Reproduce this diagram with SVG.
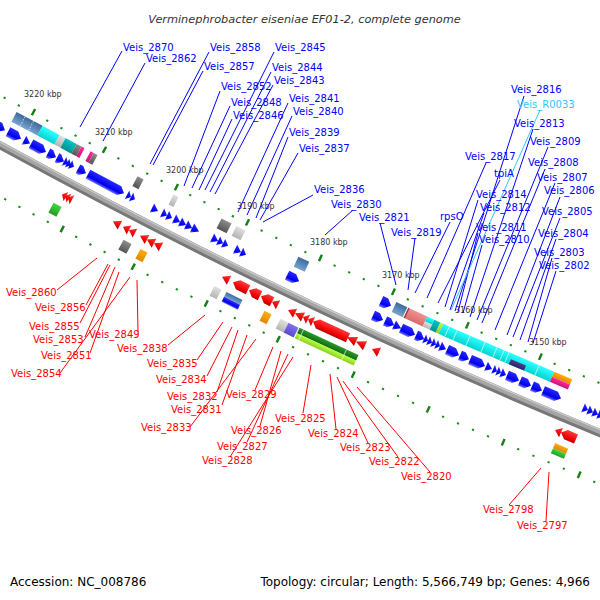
<svg xmlns="http://www.w3.org/2000/svg" width="600" height="600" viewBox="0 0 600 600">
<defs>
<linearGradient id="gBlue" x1="0" y1="0" x2="0" y2="1"><stop offset="0" stop-color="#2a2aff"/><stop offset="0.7" stop-color="#0000ee"/><stop offset="1" stop-color="#7a7aff"/></linearGradient>
<linearGradient id="gRed" x1="0" y1="0" x2="0" y2="1"><stop offset="0" stop-color="#ff3a3a"/><stop offset="0.7" stop-color="#f00000"/><stop offset="1" stop-color="#b80000"/></linearGradient>
<linearGradient id="gSteel" x1="0" y1="0" x2="0" y2="1"><stop offset="0" stop-color="#3c6c9c"/><stop offset="1" stop-color="#78a4d2"/></linearGradient>
<linearGradient id="gCyan" x1="0" y1="0" x2="0" y2="1"><stop offset="0" stop-color="#30ffff"/><stop offset="1" stop-color="#00d2d2"/></linearGradient>
<linearGradient id="gTeal" x1="0" y1="0" x2="0" y2="1"><stop offset="0" stop-color="#00c4c4"/><stop offset="1" stop-color="#009090"/></linearGradient>
<linearGradient id="gLGrey" x1="0" y1="0" x2="0" y2="1"><stop offset="0" stop-color="#e0e0e0"/><stop offset="1" stop-color="#b4b4b4"/></linearGradient>
<linearGradient id="gDGrey" x1="0" y1="0" x2="0" y2="1"><stop offset="0" stop-color="#8c8c8c"/><stop offset="1" stop-color="#555"/></linearGradient>
<linearGradient id="gPink" x1="0" y1="0" x2="0" y2="1"><stop offset="0" stop-color="#ff2a9a"/><stop offset="1" stop-color="#d0107a"/></linearGradient>
<linearGradient id="gSalmon" x1="0" y1="0" x2="0" y2="1"><stop offset="0" stop-color="#f49090"/><stop offset="1" stop-color="#d86a6a"/></linearGradient>
<linearGradient id="gYG" x1="0" y1="0" x2="0" y2="1"><stop offset="0" stop-color="#b8ff40"/><stop offset="1" stop-color="#8cd020"/></linearGradient>
<linearGradient id="gOrange" x1="0" y1="0" x2="0" y2="1"><stop offset="0" stop-color="#ffac10"/><stop offset="1" stop-color="#e08800"/></linearGradient>
<linearGradient id="gSlate" x1="0" y1="0" x2="0" y2="1"><stop offset="0" stop-color="#4a3f90"/><stop offset="1" stop-color="#2c2468"/></linearGradient>
<linearGradient id="gPurple" x1="0" y1="0" x2="0" y2="1"><stop offset="0" stop-color="#8070f0"/><stop offset="1" stop-color="#5a4acc"/></linearGradient>
<linearGradient id="gGreen" x1="0" y1="0" x2="0" y2="1"><stop offset="0" stop-color="#40d840"/><stop offset="1" stop-color="#20a020"/></linearGradient>
<linearGradient id="gDGreen" x1="0" y1="0" x2="0" y2="1"><stop offset="0" stop-color="#2a9a2a"/><stop offset="1" stop-color="#106a10"/></linearGradient>
</defs>
<style>
.lb{font-family:"DejaVu Sans",sans-serif;font-size:10px;fill:#0000ff}
.lr{font-family:"DejaVu Sans",sans-serif;font-size:10px;fill:#ff0000}
.lc{font-family:"DejaVu Sans",sans-serif;font-size:10px;fill:#33c4ff}
.kb{font-family:"DejaVu Sans",sans-serif;font-size:8px;fill:#333}
.ft{font-family:"DejaVu Sans",sans-serif;font-size:12px;fill:#000}
.bl{stroke:#0000ff;stroke-width:1;fill:none}
.rl{stroke:#ff0000;stroke-width:1;fill:none}
.cl{stroke:#33c4ff;stroke-width:1;fill:none}
.dot{fill:#1a8c1a}
.tick{fill:#178017}
.fb{fill:url(#gBlue)}
.fr{fill:url(#gRed)}
.div{stroke:#ffffff;stroke-opacity:0.7;stroke-width:0.8}
</style>
<rect width="600" height="600" fill="#ffffff"/>
<text x="304.5" y="23" text-anchor="middle" font-family="DejaVu Sans, sans-serif" font-style="italic" font-size="11.3" fill="#333">Verminephrobacter eiseniae EF01-2, complete genome</text>

<g id="scale-upper">
<g transform="translate(0,95.5) rotate(27.96) scale(1.132,1)">
<path class="dot" d="M3.6,-1h2v2h-2z M17.8,-1h2v2h-2z M46.2,-1h2v2h-2z M60.4,-1h2v2h-2z M74.6,-1h2v2h-2z M88.8,-1h2v2h-2z M117.4,-1h2v2h-2z M131.8,-1h2v2h-2z M146.2,-1h2v2h-2z"/>
<path class="tick" d="M31.9,-4.5h2.2v7h-2.2z M102.9,-4.5h2.2v7h-2.2z"/>
</g>
<g transform="translate(150,175.1) rotate(26.41) scale(1.117,1)">
<path class="dot" d="M10.6,-1h2v2h-2z M39.2,-1h2v2h-2z M53.4,-1h2v2h-2z M67.6,-1h2v2h-2z M81.8,-1h2v2h-2z M110.6,-1h2v2h-2z M125.2,-1h2v2h-2z M139.8,-1h2v2h-2z"/>
<path class="tick" d="M24.9,-4.5h2.2v7h-2.2z M95.9,-4.5h2.2v7h-2.2z"/>
</g>
<g transform="translate(300,249.6) rotate(24.82) scale(1.102,1)">
<path class="dot" d="M4.4,-1h2v2h-2z M33.6,-1h2v2h-2z M48.2,-1h2v2h-2z M62.8,-1h2v2h-2z M77.4,-1h2v2h-2z M106.8,-1h2v2h-2z M121.6,-1h2v2h-2z M136.4,-1h2v2h-2z"/>
<path class="tick" d="M18.9,-4.5h2.2v7h-2.2z M91.9,-4.5h2.2v7h-2.2z"/>
</g>
<g transform="translate(450,319) rotate(23.19) scale(1.088,1)">
<path class="dot" d="M1.2,-1h2v2h-2z M30.6,-1h2v2h-2z M45.2,-1h2v2h-2z M59.8,-1h2v2h-2z M74.4,-1h2v2h-2z M103.6,-1h2v2h-2z M118.2,-1h2v2h-2z M132.8,-1h2v2h-2z M147.4,-1h2v2h-2z"/>
<path class="tick" d="M15.9,-4.5h2.2v7h-2.2z M88.9,-4.5h2.2v7h-2.2z"/>
</g>
<text class="kb" x="24" y="97">3220 kbp</text>
<text class="kb" x="95" y="135">3210 kbp</text>
<text class="kb" x="166" y="173">3200 kbp</text>
<text class="kb" x="237" y="209">3190 kbp</text>
<text class="kb" x="310" y="245">3180 kbp</text>
<text class="kb" x="382" y="278">3170 kbp</text>
<text class="kb" x="455" y="313">3160 kbp</text>
<text class="kb" x="529" y="345">3150 kbp</text>
</g>

<g id="scale-lower">
<g transform="translate(0,196.5) rotate(27.96) scale(1.132,1)">
<path class="dot" d="M4.2,-1h2v2h-2z M18.4,-1h2v2h-2z M32.6,-1h2v2h-2z M46.8,-1h2v2h-2z M75.2,-1h2v2h-2z M89.4,-1h2v2h-2z M103.6,-1h2v2h-2z M117.8,-1h2v2h-2z M146.6,-1h2v2h-2z"/>
<path class="tick" d="M60.9,-4h2.2v7h-2.2z M131.9,-4h2.2v7h-2.2z"/>
</g>
<g transform="translate(150,276.1) rotate(26.41) scale(1.117,1)">
<path class="dot" d="M11.2,-1h2v2h-2z M25.8,-1h2v2h-2z M40.4,-1h2v2h-2z M69.4,-1h2v2h-2z M83.8,-1h2v2h-2z M98.2,-1h2v2h-2z M112.6,-1h2v2h-2z M142,-1h2v2h-2z"/>
<path class="tick" d="M54.9,-4h2.2v7h-2.2z M126.9,-4h2.2v7h-2.2z"/>
</g>
<g transform="translate(300,350.6) rotate(24.82) scale(1.102,1)">
<path class="dot" d="M7,-1h2v2h-2z M22,-1h2v2h-2z M37,-1h2v2h-2z M67,-1h2v2h-2z M82,-1h2v2h-2z M97,-1h2v2h-2z M112,-1h2v2h-2z M142,-1h2v2h-2z"/>
<path class="tick" d="M51.9,-4h2.2v7h-2.2z M126.9,-4h2.2v7h-2.2z"/>
</g>
<g transform="translate(450,420) rotate(23.19) scale(1.088,1)">
<path class="dot" d="M7,-1h2v2h-2z M22,-1h2v2h-2z M37,-1h2v2h-2z M67.2,-1h2v2h-2z M82.4,-1h2v2h-2z M97.6,-1h2v2h-2z M112.8,-1h2v2h-2z M143.2,-1h2v2h-2z"/>
<path class="tick" d="M51.9,-4h2.2v7h-2.2z M127.9,-4h2.2v7h-2.2z"/>
</g>
</g>

<g id="axis">
<path d="M-10,139 Q300,309.6 610,436.4" transform="translate(0,0.8)" stroke="#777" stroke-width="8" fill="none"/>
<path d="M-10,139 Q300,309.6 610,436.4" transform="translate(0,-0.8)" stroke="#a6a6a6" stroke-width="5" fill="none"/>
<path d="M-10,139 Q300,309.6 610,436.4" transform="translate(0,-2.6)" stroke="#cfcfcf" stroke-width="1.2" fill="none"/>
</g>

<g id="track-upper-features">
<g transform="translate(0,109.5) rotate(27.96) scale(1.132,1)">
<rect x="14" y="-5.5" width="26" height="11" fill="url(#gSteel)"/>
<path class="div" d="M22.5,-5.5V5.5 M31,-5.5V5.5" stroke-dasharray="1.5 1.5"/>
<rect x="40" y="-5.5" width="17" height="11" fill="url(#gCyan)"/>
<rect x="57" y="-5.5" width="6" height="11" fill="url(#gLGrey)"/>
<rect x="63" y="-5.5" width="11" height="11" fill="url(#gTeal)"/>
<rect x="74" y="-5.5" width="5" height="11" fill="url(#gDGrey)"/>
<rect x="79" y="-5.5" width="3" height="11" fill="url(#gPink)"/>
<rect x="88" y="-5.5" width="3" height="11" fill="url(#gPink)"/>
<rect x="91" y="-5.5" width="4" height="11" fill="url(#gDGrey)"/>
<rect x="135" y="-5.5" width="6" height="11" fill="url(#gDGrey)"/>
</g>
<g transform="translate(150,189.1) rotate(26.41) scale(1.117,1)">
<rect x="21" y="-5.5" width="5" height="11" fill="url(#gLGrey)"/>
<rect x="69" y="-5.5" width="10" height="11" fill="url(#gDGrey)"/>
<rect x="84" y="-5.5" width="9" height="11" fill="url(#gLGrey)"/>
</g>
<g transform="translate(300,263.6) rotate(24.82) scale(1.102,1)">
<rect x="-4" y="-5.5" width="11" height="11" fill="url(#gSteel)"/>
<path class="fb" d="M81,-5.5H86L91,0L86,5.5H81Z"/>
<rect x="94" y="-5.5" width="11" height="11" fill="url(#gSteel)"/>
<rect x="106" y="-5.5" width="19" height="11" fill="url(#gSalmon)"/>
<rect x="106" y="-5.5" width="1.2" height="11" fill="#a03030"/>
<rect x="125" y="-5.5" width="7" height="5.5" fill="url(#gCyan)"/>
<rect x="125" y="0" width="7" height="5.5" fill="url(#gLGrey)"/>
<rect x="132" y="-5.5" width="6" height="11" fill="url(#gTeal)"/>
<rect x="138" y="-5.5" width="3" height="11" fill="url(#gYG)"/>
<rect x="141" y="-5.5" width="9.5" height="11" fill="url(#gCyan)"/>
<path class="div" d="M147,-5.5V5.5"/>
</g>
<g transform="translate(450,333) rotate(23.19) scale(1.088,1)">
<rect x="0" y="-5.5" width="102" height="11" fill="url(#gCyan)"/>
<path class="div" d="M5,-5.5V5.5 M18,-5.5V5.5 M33,-5.5V5.5 M45,-5.5V5.5 M52,-5.5V5.5 M57,-5.5V5.5 M87,-5.5V5.5"/>
<rect x="61" y="0" width="15" height="5.5" fill="url(#gSlate)"/>
<rect x="102" y="-5.5" width="18" height="5.5" fill="url(#gOrange)"/>
<rect x="102" y="0" width="18" height="5.5" fill="url(#gPink)"/>
</g>
</g>

<g id="track-forward-genes">
<path class="fb" transform="translate(0,127.5) rotate(27.96) scale(1.132,1)" d="M-3,-5H0L5,0L0,5H-3Z M8,-5H16L21,0L16,5H8Z M24,-5L30,0L24,5Z M31,-5H41L46,0L41,5H31Z M48,-5H51L56,0L51,5H48Z M57,-5H59L64,0L59,5H57Z M64,-5L68,0L64,5Z M67,-5L71,0L67,5Z M70,-5L74,0L70,5Z M78,-5H81L86,0L81,5H78Z M88,-5H119L124,0L119,5H88Z M127,-5L131,0L127,5Z M131,-5L135,0L131,5Z"/>
<path class="fb" transform="translate(150,207.1) rotate(26.41) scale(1.117,1)" d="M2,-5L8,0L2,5Z M12,-5L17,0L12,5Z M17,-5L22,0L17,5Z M24,-5L30,0L24,5Z M30,-5L36,0L30,5Z M36,-5L42,0L36,5Z M42,-5L49,0L42,5Z M62,-5L68,0L62,5Z M68,-5L73,0L68,5Z M73,-5L78,0L73,5Z M85,-5L91,0L85,5Z M91,-5L96,0L91,5Z M137,-5H144L149,0L144,5H137Z"/>
<path class="fb" transform="translate(300,281.6) rotate(24.82) scale(1.102,1)" d="M73,-5H78L83,0L78,5H73Z M85,-5H89L94,0L89,5H85Z M94,-5L101,0L94,5Z M101,-5H110L115,0L110,5H101Z M116,-5H119L124,0L119,5H116Z M124,-5L128,0L124,5Z M128,-5L132,0L128,5Z M132,-5L136,0L132,5Z M136,-5L140,0L136,5Z M140,-5L146,0L140,5Z M147,-5H154L159,0L154,5H147Z"/>
<path class="fb" transform="translate(450,351) rotate(23.19) scale(1.088,1)" d="M10,-5H14L19,0L14,5H10Z M20,-5H30L35,0L30,5H20Z M36,-5L42,0L36,5Z M43,-5L47,0L43,5Z M47,-5L51,0L47,5Z M51,-5L56,0L51,5Z M57,-5H64L69,0L64,5H57Z M70,-5H76L81,0L76,5H70Z M82,-5H87L92,0L87,5H82Z M93,-5H106L111,0L106,5H93Z M133,-5L138,0L133,5Z M138,-5L143,0L138,5Z M143,-5L148,0L143,5Z M148,-5L153,0L148,5Z"/>
</g>

<g id="track-reverse-genes">
<path class="fr" transform="translate(0,161.5) rotate(27.96) scale(1.132,1)" d="M62,0L66,-5V5Z M65,0L69,-5V5Z M68,0L72,-5V5Z M113,0L120,-5V5Z M123,0L129,-5V5Z M129,0L135,-5V5Z M140,0L147,-5V5Z M147,0L154,-5V5Z M154,0L161,-5V5Z"/>
<path class="fr" transform="translate(150,241.1) rotate(26.41) scale(1.117,1)" d="M72,0L79,-5V5Z M83,0L88,-5H98V5H88Z M99,0L104,-5H110V5H104Z M111,0L116,-5H122V5H116Z M122,0L128,-5V5Z"/>
<path class="fr" transform="translate(300,315.6) rotate(24.82) scale(1.102,1)" d="M-12,0L-5,-5V5Z M-5,0L3,-5V5Z M3,0L8,-5V5Z M8,0L13,-5V5Z M13,0L18,-5H48V5H18Z M47,0L56,-5V5Z M56,0L65,-5V5Z M72,0L79,-5V5Z"/>
<path class="fr" transform="translate(450,385) rotate(23.19) scale(1.088,1)" d="M105,0L111,-5V5Z M111,0L116,-5H126V5H116Z"/>
</g>

<g id="track-lower-features">
<g transform="translate(0,180.5) rotate(27.96) scale(1.132,1)">
<rect x="51" y="-5.5" width="8" height="11" fill="url(#gGreen)"/>
<rect x="121" y="-5.5" width="8" height="11" fill="url(#gDGrey)"/>
<rect x="138" y="-5.5" width="7" height="11" fill="url(#gOrange)"/>
</g>
<g transform="translate(150,260.1) rotate(26.41) scale(1.117,1)">
<rect x="62" y="-5.5" width="7" height="11" fill="url(#gLGrey)"/>
<rect x="74" y="-5.5" width="16" height="5.5" fill="url(#gSteel)"/>
<rect x="74" y="0" width="16" height="5.5" fill="url(#gBlue)"/>
<rect x="112" y="-5.5" width="7" height="11" fill="url(#gOrange)"/>
<rect x="128" y="-5.5" width="8" height="11" fill="url(#gLGrey)"/>
<rect x="136" y="-5.5" width="10" height="11" fill="url(#gPurple)"/>
</g>
<g transform="translate(300,334.6) rotate(24.82) scale(1.102,1)">
<rect x="-3" y="-6" width="59" height="6" fill="url(#gDGreen)"/>
<rect x="-3" y="0" width="59" height="5.5" fill="url(#gYG)"/>
<path class="div" d="M1,-6V5.5 M44,-6V5.5" stroke-opacity="0.4"/>
</g>
<g transform="translate(450,404) rotate(23.19) scale(1.088,1)">
<rect x="103" y="-5.5" width="13" height="5.5" fill="url(#gOrange)"/>
<rect x="103" y="0" width="13" height="5.5" fill="url(#gGreen)"/>
</g>
</g>

<g id="connectors">
<path class="bl" d="M122,51L80,127 M145,63L103,141 M209,52L150,164 M203,71L153,165 M220,91L184,186 M230,106L192,188 M232,119L199,190 M274,52L205,190 M271,72L210,192 M273,85L215,194 M288,103L238,212 M292,116L247,215 M288,137L256,218 M298,153L285,176L260,220 M313,195L263,222 M353,210L325,235 M380,223L396,285 M415,238L408,290 M450,222L415,293 M486,163L427,298 M500,180L438,303 M478,200L445,307 M484,213L450,310 M478,233L458,312 M482,245L463,313 M524,96L455,311 M533,129L470,317 M548,147L477,320 M545,169L482,323 M555,183L495,330 M560,197L507,335 M560,218L513,337 M556,239L520,340 M552,258L528,342 M556,271L533,343"/>
<path class="cl" d="M540,110L451,310"/>
<path class="rl" d="M57,290L97,258 M86,305L108,264 M80,323L110,265 M85,337L115,267 M90,353L119,272 M60,373L130,277 M138,332L137,280 M168,345L205,315 M197,360L223,322 M207,376L232,327 M217,392L238,330 M222,405L247,335 M190,427L256,339 M255,390L273,347 M260,426L281,351 M247,442L288,354 M230,457L293,357 M303,413L311,365 M336,429L330,374 M368,443L337,377 M398,457L343,381 M430,472L357,387 M509,505L541,468 M546,521L549,472"/>
</g>

<g id="labels-forward">
<text id="l2870" class="lb" x="123" y="50.5">Veis_2870</text>
<text id="l2862" class="lb" x="146" y="62">Veis_2862</text>
<text id="l2858" class="lb" x="210" y="50.5">Veis_2858</text>
<text id="l2857" class="lb" x="204" y="70">Veis_2857</text>
<text id="l2852" class="lb" x="221" y="90">Veis_2852</text>
<text id="l2848" class="lb" x="231" y="105.5">Veis_2848</text>
<text id="l2846" class="lb" x="233" y="118.5">Veis_2846</text>
<text id="l2845" class="lb" x="275" y="51">Veis_2845</text>
<text id="l2844" class="lb" x="272" y="71">Veis_2844</text>
<text id="l2843" class="lb" x="274" y="83.5">Veis_2843</text>
<text id="l2841" class="lb" x="289" y="101.5">Veis_2841</text>
<text id="l2840" class="lb" x="293" y="114.5">Veis_2840</text>
<text id="l2839" class="lb" x="289" y="135.5">Veis_2839</text>
<text id="l2837" class="lb" x="299" y="151.5">Veis_2837</text>
<text id="l2836" class="lb" x="314" y="192.5">Veis_2836</text>
<text id="l2830" class="lb" x="331" y="207.5">Veis_2830</text>
<text id="l2821" class="lb" x="359" y="220.5">Veis_2821</text>
<text id="l2819" class="lb" x="391" y="236">Veis_2819</text>
<text id="lrpsO" class="lb" x="440" y="219.5">rpsO</text>
<text id="l2817" class="lb" x="465" y="160">Veis_2817</text>
<text id="ltpiA" class="lb" x="494" y="177">tpiA</text>
<text id="l2814" class="lb" x="476" y="197.5">Veis_2814</text>
<text id="l2812" class="lb" x="480" y="210.5">Veis_2812</text>
<text id="l2811" class="lb" x="476" y="230.5">Veis_2811</text>
<text id="l2810" class="lb" x="479" y="243">Veis_2810</text>
<text id="l2816" class="lb" x="511" y="93">Veis_2816</text>
<text id="lR0033" class="lc" x="517" y="107.5">Veis_R0033</text>
<text id="l2813" class="lb" x="514" y="126.5">Veis_2813</text>
<text id="l2809" class="lb" x="530" y="144.5">Veis_2809</text>
<text id="l2808" class="lb" x="528" y="166">Veis_2808</text>
<text id="l2807" class="lb" x="537" y="180.5">Veis_2807</text>
<text id="l2806" class="lb" x="544" y="194">Veis_2806</text>
<text id="l2805" class="lb" x="542" y="215">Veis_2805</text>
<text id="l2804" class="lb" x="538" y="236.5">Veis_2804</text>
<text id="l2803" class="lb" x="534" y="255.5">Veis_2803</text>
<text id="l2802" class="lb" x="539" y="268.5">Veis_2802</text>
</g>

<g id="labels-reverse">
<text id="l2860" class="lr" x="6" y="295.5">Veis_2860</text>
<text id="l2856" class="lr" x="35" y="310.5">Veis_2856</text>
<text id="l2855" class="lr" x="29" y="329.5">Veis_2855</text>
<text id="l2853" class="lr" x="33" y="343">Veis_2853</text>
<text id="l2851" class="lr" x="41" y="358.5">Veis_2851</text>
<text id="l2854" class="lr" x="11" y="376.5">Veis_2854</text>
<text id="l2849" class="lr" x="89" y="337.5">Veis_2849</text>
<text id="l2838" class="lr" x="117" y="352">Veis_2838</text>
<text id="l2835" class="lr" x="147" y="366.5">Veis_2835</text>
<text id="l2834" class="lr" x="156" y="382.5">Veis_2834</text>
<text id="l2832" class="lr" x="167" y="400">Veis_2832</text>
<text id="l2831" class="lr" x="171" y="412.5">Veis_2831</text>
<text id="l2833" class="lr" x="141" y="430.5">Veis_2833</text>
<text id="l2829" class="lr" x="226" y="398">Veis_2829</text>
<text id="l2826" class="lr" x="231" y="434">Veis_2826</text>
<text id="l2827" class="lr" x="217" y="450">Veis_2827</text>
<text id="l2828" class="lr" x="202" y="464">Veis_2828</text>
<text id="l2825" class="lr" x="275" y="422">Veis_2825</text>
<text id="l2824" class="lr" x="308" y="437">Veis_2824</text>
<text id="l2823" class="lr" x="340" y="450.5">Veis_2823</text>
<text id="l2822" class="lr" x="369" y="465">Veis_2822</text>
<text id="l2820" class="lr" x="401" y="479.5">Veis_2820</text>
<text id="l2798" class="lr" x="483" y="513">Veis_2798</text>
<text id="l2797" class="lr" x="517" y="529">Veis_2797</text>
</g>

<text class="ft" x="10" y="586">Accession: NC_008786</text>
<text class="ft" x="590" y="586" text-anchor="end">Topology: circular; Length: 5,566,749 bp; Genes: 4,966</text>
</svg>
